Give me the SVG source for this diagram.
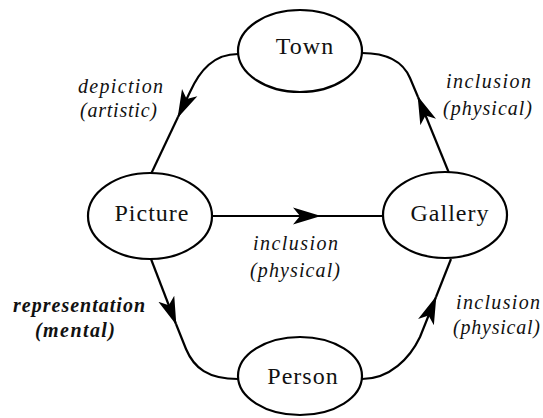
<svg xmlns="http://www.w3.org/2000/svg" width="543" height="418" viewBox="0 0 543 418">
  <defs>
    <style>
      .node ellipse { fill: #ffffff; stroke: #000000; stroke-width: 2.2; }
      .node text { font-family: "Liberation Serif", "Times New Roman", serif; font-size: 24px; letter-spacing: 1px; text-anchor: middle; fill: #111111; }
      .edge { fill: none; stroke: #000000; stroke-width: 2.2; }
      .lbl { font-family: "Liberation Serif", "Times New Roman", serif; font-style: italic; font-size: 20px; fill: #111111; }
      .bold { font-weight: bold; }
    </style>
    <marker id="arr" markerUnits="userSpaceOnUse" viewBox="0 0 28 18" refX="27" refY="9" markerWidth="28" markerHeight="18" orient="auto">
      <path d="M0,0.5 L28,9 L0,17.5 L7,9 Z" fill="#000000"/>
    </marker>
  </defs>
  <rect width="543" height="418" fill="#ffffff"/>

  <g id="connectors">
    <!-- Town -> Picture -->
    <path class="edge" d="M238,54 C214,54 200,70 190,92 L178,117" marker-end="url(#arr)"/>
    <path class="edge" d="M178,117 L151,174"/>
    <!-- Gallery -> Town -->
    <path class="edge" d="M449,173 L418,97" marker-end="url(#arr)"/>
    <path class="edge" d="M418,97 L410,78 C404,64 390,53 362,53"/>
    <!-- Picture -> Gallery -->
    <path class="edge" d="M212,216 L320,216" marker-end="url(#arr)"/>
    <path class="edge" d="M320,216 L383,216"/>
    <!-- Picture -> Person -->
    <path class="edge" d="M151,259 L176,324" marker-end="url(#arr)"/>
    <path class="edge" d="M176,324 L186,349 C194,368 208,379 238,379"/>
    <!-- Person -> Gallery -->
    <path class="edge" d="M362,379 C390,379 410,358 420,337 L436,297" marker-end="url(#arr)"/>
    <path class="edge" d="M436,297 L451,259"/>
  </g>

  <g id="node-town" class="node">
    <ellipse cx="300" cy="51" rx="62" ry="41"/>
    <text x="305" y="54">Town</text>
  </g>
  <g id="node-picture" class="node">
    <ellipse cx="150" cy="216" rx="62" ry="43"/>
    <text x="152" y="221">Picture</text>
  </g>
  <g id="node-gallery" class="node">
    <ellipse cx="445" cy="215" rx="62" ry="43"/>
    <text x="450" y="221">Gallery</text>
  </g>
  <g id="node-person" class="node">
    <ellipse cx="300" cy="376" rx="62" ry="39"/>
    <text x="303" y="384">Person</text>
  </g>

  <g id="labels">
    <text class="lbl" x="78" y="93" textLength="85" lengthAdjust="spacing">depiction</text>
    <text class="lbl" x="80" y="117" textLength="77" lengthAdjust="spacing">(artistic)</text>
    <text class="lbl" x="446" y="88" textLength="85" lengthAdjust="spacing">inclusion</text>
    <text class="lbl" x="443" y="115" textLength="89" lengthAdjust="spacing">(physical)</text>
    <text class="lbl" x="253" y="250" textLength="85" lengthAdjust="spacing">inclusion</text>
    <text class="lbl" x="250" y="277" textLength="90" lengthAdjust="spacing">(physical)</text>
    <text class="lbl bold" x="13" y="312" textLength="132" lengthAdjust="spacing">representation</text>
    <text class="lbl bold" x="35" y="337" textLength="80" lengthAdjust="spacing">(mental)</text>
    <text class="lbl" x="456" y="309" textLength="84" lengthAdjust="spacing">inclusion</text>
    <text class="lbl" x="453" y="334" textLength="87" lengthAdjust="spacing">(physical)</text>
  </g>
</svg>
